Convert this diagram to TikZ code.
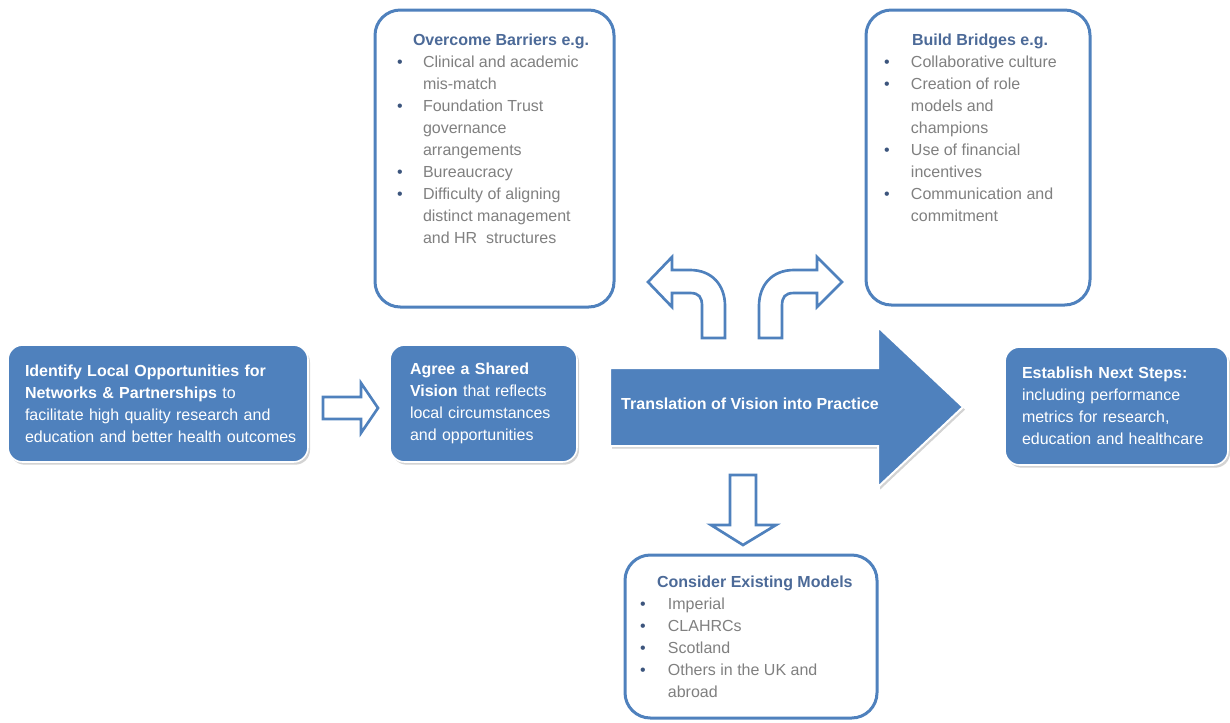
\documentclass[tikz,border=0pt]{standalone}
\usepackage{fontspec}
\setmainfont{Liberation Sans}
\usepackage{xcolor}
\usetikzlibrary{shadows}
\definecolor{boxblue}{RGB}{79,129,189}
\definecolor{headblue}{RGB}{76,106,152}
\definecolor{itemgray}{RGB}{128,128,128}
\definecolor{dotblue}{RGB}{60,85,125}
\newcommand{\boxfont}{\fontsize{12}{16.5}\selectfont}
\newcommand{\listhead}[1]{{\bfseries\color{headblue}#1}}
\newcommand{\dotitem}{{\color{dotblue}\textbullet}}
\tikzset{
    filled-box/.style = {fill=boxblue, draw=white, line width=1.2pt, rounded corners=11pt, inner sep=0pt, align=left, text=white, font=\boxfont, execute at begin node={\leftskip=12.75pt}, drop shadow={shadow xshift=1.5pt, shadow yshift=-2pt, opacity=0.35}},
    list-box/.style = {draw=boxblue, fill=white, line width=2.25pt, rounded corners=19pt, inner sep=0pt, text=itemgray, font=\boxfont},
    hollow-arrow/.style = {draw=boxblue, fill=white, line width=2pt, line join=miter},
    big-arrow/.style = {fill=boxblue, draw=white, line width=1.5pt, drop shadow={shadow xshift=1.5pt, shadow yshift=-2pt, opacity=0.35}},
}

\begin{document}
\begin{tikzpicture}[x=0.75pt, y=-0.75pt]
\useasboundingbox (0,0) rectangle (1230,722);

% main row
\node[filled-box, text width=225pt, minimum height=87.75pt] (ident) at (158,403.5) {\textbf{Identify Local Opportunities for}\\ \textbf{Networks \& Partnerships} to\\ facilitate high quality research and\\ education and better health outcomes};
\node[filled-box, text width=140.25pt, minimum height=87.75pt, execute at begin node={\leftskip=15pt}] (agree) at (483.5,403.5) {\textbf{Agree a Shared}\\ \textbf{Vision} that reflects\\ local circumstances\\ and opportunities};
\node[filled-box, text width=167.25pt, minimum height=88.5pt] (steps) at (1116.5,406) {\textbf{Establish Next Steps:}\\ including performance\\ metrics for research,\\ education and healthcare};

\draw[big-arrow] (610,368) -- (878,368) -- (878,327) -- (963,407) -- (878,487) -- (878,446) -- (610,446) -- cycle;
\node[font=\boxfont\bfseries, text=white] (transl) at (750,404) {Translation of Vision into Practice};

% list boxes
\node[list-box] (barriers) at (494.5,158.5) {\begin{minipage}[t][222.75pt][t]{179.25pt}
\vspace*{15pt}
\noindent\begin{tabular}{@{\hspace{16.6pt}}l@{\hspace{15.2pt}}l@{}}
\multicolumn{2}{@{\hspace{28.5pt}}l@{}}{\listhead{Overcome Barriers e.g.}}\\
\dotitem & Clinical and academic\\
 & mis-match\\
\dotitem & Foundation Trust\\
 & governance\\
 & arrangements\\
\dotitem & Bureaucracy\\
\dotitem & Difficulty of aligning\\
 & distinct management\\
 & and HR~ structures
\end{tabular}
\end{minipage}};

\node[list-box] (bridges) at (978,157.5) {\begin{minipage}[t][221.25pt][t]{168pt}
\vspace*{15pt}
\noindent\begin{tabular}{@{\hspace{13.6pt}}l@{\hspace{15.9pt}}l@{}}
\multicolumn{2}{@{\hspace{34.5pt}}l@{}}{\listhead{Build Bridges e.g.}}\\
\dotitem & Collaborative culture\\
\dotitem & Creation of role\\
 & models and\\
 & champions\\
\dotitem & Use of financial\\
 & incentives\\
\dotitem & Communication and\\
 & commitment
\end{tabular}
\end{minipage}};

\node[list-box] (models) at (751,636.5) {\begin{minipage}[t][122.25pt][t]{189pt}
\vspace*{13pt}
\noindent\begin{tabular}{@{\hspace{11.4pt}}l@{\hspace{16.6pt}}l@{}}
\multicolumn{2}{@{\hspace{24pt}}l@{}}{\listhead{Consider Existing Models}}\\
\dotitem & Imperial\\
\dotitem & CLAHRCs\\
\dotitem & Scotland\\
\dotitem & Others in the UK and\\
 & abroad
\end{tabular}
\end{minipage}};

% hollow arrows
\draw[hollow-arrow] (323,397) -- (361,397) -- (361,383) -- (378,408) -- (361,433) -- (361,419) -- (323,419) -- cycle;
\draw[hollow-arrow] (730,475) -- (756,475) -- (756,525) -- (776,525) -- (743,545) -- (711,525) -- (730,525) -- cycle;
\draw[hollow-arrow] (702,338) -- (702,306) .. controls (702,297) and (699,293) .. (690,293) -- (672,293) -- (672,307) -- (648,282) -- (672,257) -- (672,270) -- (690,270) .. controls (712,270) and (725,285) .. (725,306) -- (725,338) -- cycle;
\draw[hollow-arrow] (782,338) -- (782,306) .. controls (782,297) and (785,293) .. (794,293) -- (817,293) -- (817,307) -- (842,282) -- (817,257) -- (817,270) -- (794,270) .. controls (772,270) and (759,285) .. (759,306) -- (759,338) -- cycle;
\end{tikzpicture}
\end{document}
